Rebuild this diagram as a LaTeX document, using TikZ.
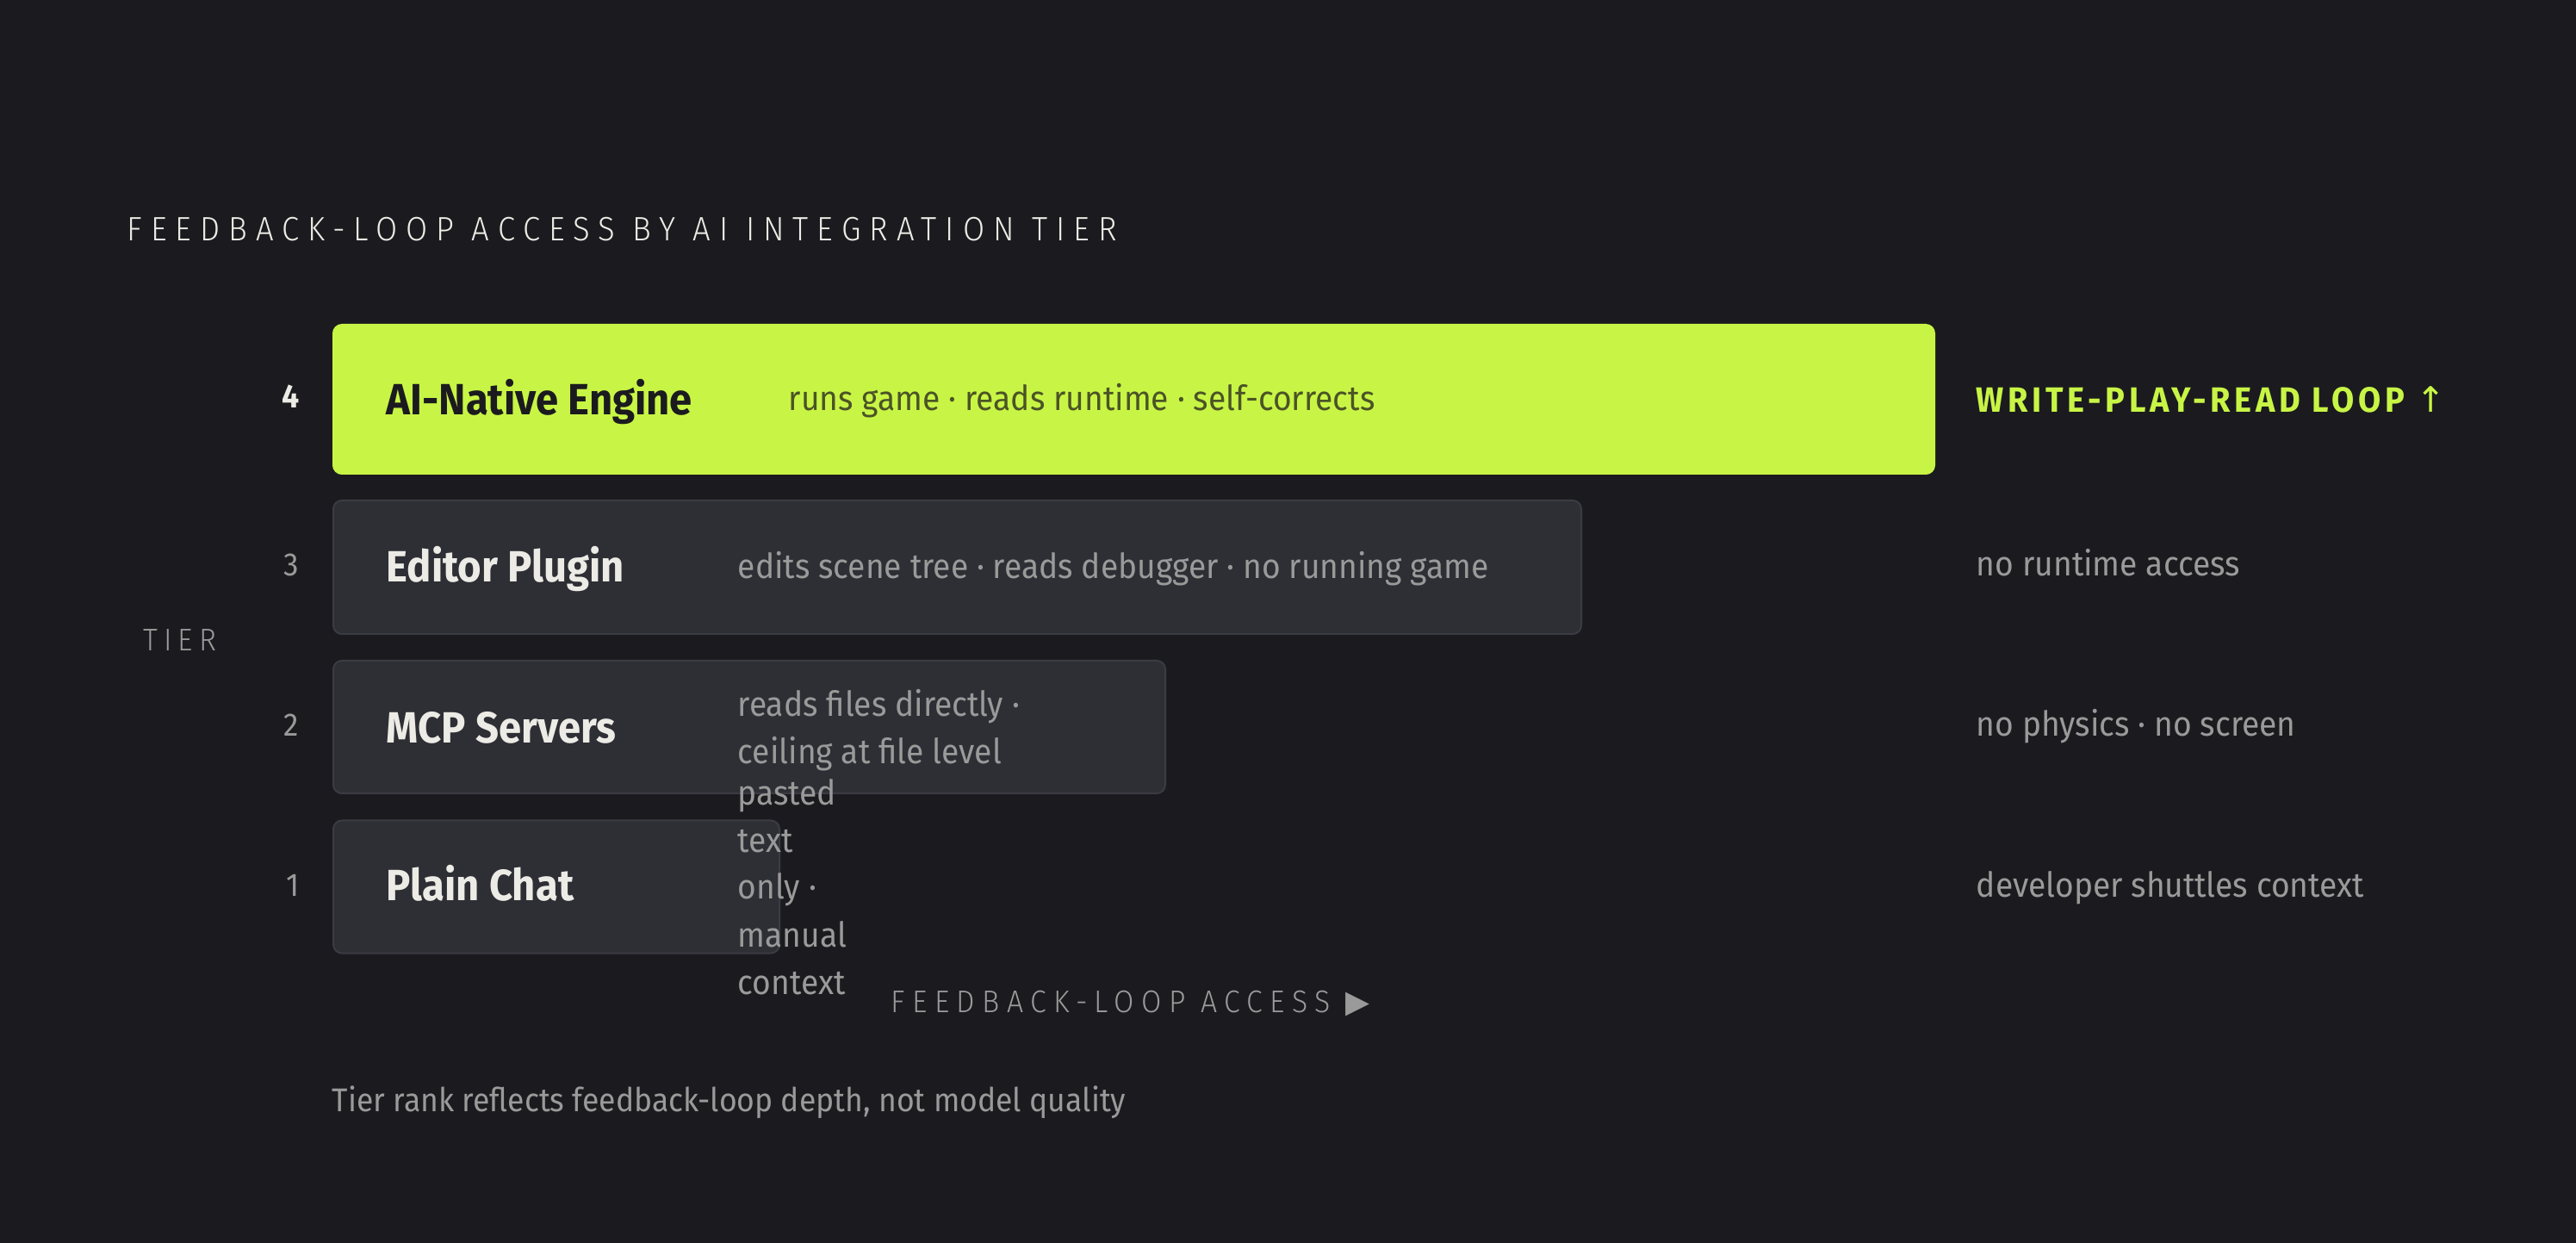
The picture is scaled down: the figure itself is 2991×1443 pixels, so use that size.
\documentclass[tikz,border=0pt]{standalone}
\usepackage{fontspec}
\usepackage{tikz}
\setmainfont[FakeStretch=0.93]{Fira Sans}
\IfFontExistsTF{Fira Sans Light}{%
  \newfontfamily\capsfont[LetterSpace=25.5,FakeStretch=0.93]{Fira Sans Light}
  \newfontfamily\axisfont[LetterSpace=23,FakeStretch=0.93]{Fira Sans Light}
  \newfontfamily\tierfont[LetterSpace=19,FakeStretch=0.93]{Fira Sans Light}}{%
  \newfontfamily\capsfont[LetterSpace=25.5,FakeStretch=0.93]{Fira Sans}
  \newfontfamily\axisfont[LetterSpace=23,FakeStretch=0.93]{Fira Sans}
  \newfontfamily\tierfont[LetterSpace=19,FakeStretch=0.93]{Fira Sans}}
\newfontfamily\loopfont[LetterSpace=11.5,FakeStretch=0.93]{Fira Sans}
\newfontfamily\symfont{DejaVu Sans}

\definecolor{bg}{HTML}{1B1B1F}
\definecolor{lime}{HTML}{C8F545}
\definecolor{barfill}{HTML}{2E2F35}
\definecolor{barline}{HTML}{3B3C43}
\definecolor{ink}{HTML}{ECEBE5}
\definecolor{mute}{HTML}{9A9A9A}
\definecolor{olive}{HTML}{4B5326}

\begin{document}
\begin{tikzpicture}[x=0.25pt,y=-0.25pt,
    bar/.style={anchor=west,inner sep=0pt,rounded corners=2.5pt,fill=barfill,draw=barline,line width=0.5pt},
    tiername/.style={anchor=base west,inner sep=0pt,text=ink,font=\fontsize{12.7}{14}\selectfont\bfseries},
    tiernote/.style={anchor=base west,inner sep=0pt,text=mute,align=left,font=\fontsize{10}{13.75}\selectfont},
    rank/.style={anchor=base east,inner sep=0pt,text=mute,font=\fontsize{9.4}{11}\selectfont},
    sidenote/.style={anchor=base west,inner sep=0pt,text=mute,font=\fontsize{10}{12}\selectfont}]
    \fill[bg] (0,0) rectangle (2991,1443);
    \useasboundingbox (0,0) rectangle (2991,1443);

    \node[anchor=base west,inner sep=0pt,text=ink,font=\capsfont\fontsize{9.8}{12}\selectfont]
        (title) at (147,280) {FEEDBACK-LOOP ACCESS BY AI INTEGRATION TIER};

    % tier 4
    \node[bar,fill=lime,draw=lime,minimum width=464.75pt,minimum height=43.25pt] (bar4) at (386,463.5) {};
    \node[rank,text=ink,font=\fontsize{9.6}{11}\selectfont\bfseries] (rank4) at (348,474) {4};
    \node[tiername,text=bg] (name4) at (448,482) {AI-Native Engine};
    \node[tiernote,text=olive] (note4) at (915,477) {runs game · reads runtime · self-corrects};
    \node[anchor=base west,inner sep=0pt,text=lime,font=\loopfont\fontsize{10.2}{12}\selectfont\bfseries]
        (loop) at (2294,479) {WRITE-PLAY-READ LOOP {\symfont\mdseries ↑}};

    % tier 3
    \node[bar,minimum width=362.25pt,minimum height=38.75pt] (bar3) at (386,658.5) {};
    \node[rank] (rank3) at (348,669) {3};
    \node[tiername] (name3) at (448,676) {Editor Plugin};
    \node[tiernote] (note3) at (856,672) {edits scene tree · reads debugger · no running game};
    \node[sidenote] (side3) at (2294,669) {no runtime access};

    % tier 2
    \node[bar,minimum width=241.5pt,minimum height=38.5pt] (bar2) at (386,844) {};
    \node[rank] (rank2) at (348,855) {2};
    \node[tiername] (name2) at (448,862) {MCP Servers};
    \node[tiernote] (note2) at (856,887) {reads files directly ·\\ceiling at file level};
    \node[sidenote] (side2) at (2294,855) {no physics · no screen};

    % tier 1
    \node[bar,minimum width=129.5pt,minimum height=38.5pt] (bar1) at (386,1029.5) {};
    \node[rank] (rank1) at (348,1040) {1};
    \node[tiername] (name1) at (448,1046) {Plain Chat};
    \node[tiernote] (note1) at (856,1154) {pasted\\text\\only ·\\manual\\context};
    \node[sidenote] (side1) at (2294,1041) {developer shuttles context};

    % axes
    \node[anchor=base west,inner sep=0pt,text=mute,font=\tierfont\fontsize{9.1}{11}\selectfont]
        (yaxis) at (166,756) {TIER};
    \node[anchor=base west,inner sep=0pt,text=mute,font=\axisfont\fontsize{9.1}{11}\selectfont]
        (xaxis) at (1034,1175) {FEEDBACK-LOOP ACCESS {\symfont ▶}};

    \node[anchor=base west,inner sep=0pt,text=mute,font=\fontsize{9.55}{11}\selectfont]
        (foot) at (385,1290) {Tier rank reflects feedback-loop depth, not model quality};
\end{tikzpicture}
\end{document}
